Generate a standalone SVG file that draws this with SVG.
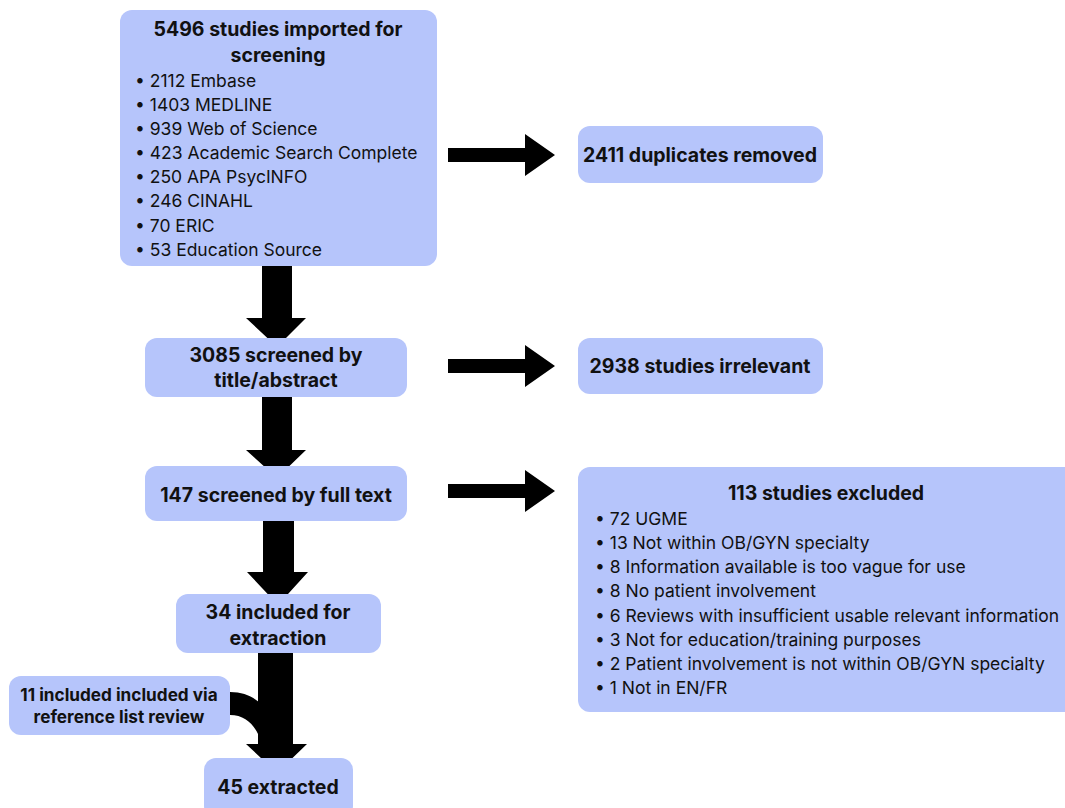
<svg xmlns="http://www.w3.org/2000/svg" width="1065" height="808" viewBox="0 0 1065 808">
<style>
.box{fill:#b6c5fb;}
.h{font-family:Inter,"Liberation Sans",sans-serif;font-weight:700;font-size:19.5px;fill:#111;text-anchor:middle;}
.hs{font-size:17.2px;}
.b{font-family:Inter,"Liberation Sans",sans-serif;font-size:17.5px;fill:#111;}
.arr{fill:#000;}
</style>
<rect width="1065" height="808" fill="#fff"/>
<g id="connectors">
<path class="arr" d="M262,266 H292 V318 H306 L277,347 L246,318 H262 Z"/>
<path class="arr" d="M262,397 H292 V450 H306 L277,478 L246,450 H262 Z"/>
<path class="arr" d="M263,521 H294 V572 H308 L278,605 L247,572 H263 Z"/>
<path class="arr" d="M258,653 H293 V744 H307 L277,773 L246,744 H258 Z"/>
<path class="arr" d="M230,692 C244,692 254,697 262,705 L262,745 C258,729 248,715 230,715 Z"/>
<path class="arr" d="M448,148 H525 V134 L555,155 L525,176 V162 H448 Z"/>
<path class="arr" d="M448,359 H525 V345 L555,366 L525,387 V373 H448 Z"/>
<path class="arr" d="M448,484 H525 V470 L555,491 L525,512 V498 H448 Z"/>
</g>
<g id="n1">
<rect class="box" x="120" y="10" width="317" height="256" rx="12"/>
<text class="h" x="278" y="36">5496 studies imported for</text>
<text class="h" x="278" y="62">screening</text>
<g class="b">
<text x="135" y="87">• 2112 Embase</text>
<text x="135" y="111">• 1403 MEDLINE</text>
<text x="135" y="135">• 939 Web of Science</text>
<text x="135" y="159">• 423 Academic Search Complete</text>
<text x="135" y="183">• 250 APA PsycINFO</text>
<text x="135" y="207">• 246 CINAHL</text>
<text x="135" y="232">• 70 ERIC</text>
<text x="135" y="256">• 53 Education Source</text>
</g>
</g>
<g id="n2">
<rect class="box" x="578" y="126" width="245" height="57" rx="12"/>
<text class="h" x="700" y="162">2411 duplicates removed</text>
</g>
<g id="n3">
<rect class="box" x="145" y="338" width="262" height="59" rx="12"/>
<text class="h" x="276" y="362">3085 screened by</text>
<text class="h" x="276" y="387">title/abstract</text>
</g>
<g id="n4">
<rect class="box" x="578" y="338" width="245" height="56" rx="12"/>
<text class="h" x="700" y="373">2938 studies irrelevant</text>
</g>
<g id="n5">
<rect class="box" x="145" y="466" width="262" height="55" rx="12"/>
<text class="h" x="276" y="502">147 screened by full text</text>
</g>
<g id="n6">
<rect class="box" x="578" y="467" width="510" height="245" rx="12"/>
<text class="h" x="826" y="500">113 studies excluded</text>
<g class="b">
<text x="595" y="525">• 72 UGME</text>
<text x="595" y="549">• 13 Not within OB/GYN specialty</text>
<text x="595" y="573">• 8 Information available is too vague for use</text>
<text x="595" y="597">• 8 No patient involvement</text>
<text x="595" y="622">• 6 Reviews with insufficient usable relevant information</text>
<text x="595" y="646">• 3 Not for education/training purposes</text>
<text x="595" y="670">• 2 Patient involvement is not within OB/GYN specialty</text>
<text x="595" y="694">• 1 Not in EN/FR</text>
</g>
</g>
<g id="n7">
<rect class="box" x="176" y="594" width="205" height="59" rx="12"/>
<text class="h" x="278" y="619">34 included for</text>
<text class="h" x="278" y="645">extraction</text>
</g>
<g id="n8">
<rect class="box" x="9" y="676" width="221" height="59" rx="12"/>
<text class="h hs" x="119" y="701">11 included included via</text>
<text class="h hs" x="119" y="723">reference list review</text>
</g>
<g id="n9">
<rect class="box" x="204" y="758" width="149" height="60" rx="12"/>
<text class="h" x="278" y="794">45 extracted</text>
</g>
</svg>
